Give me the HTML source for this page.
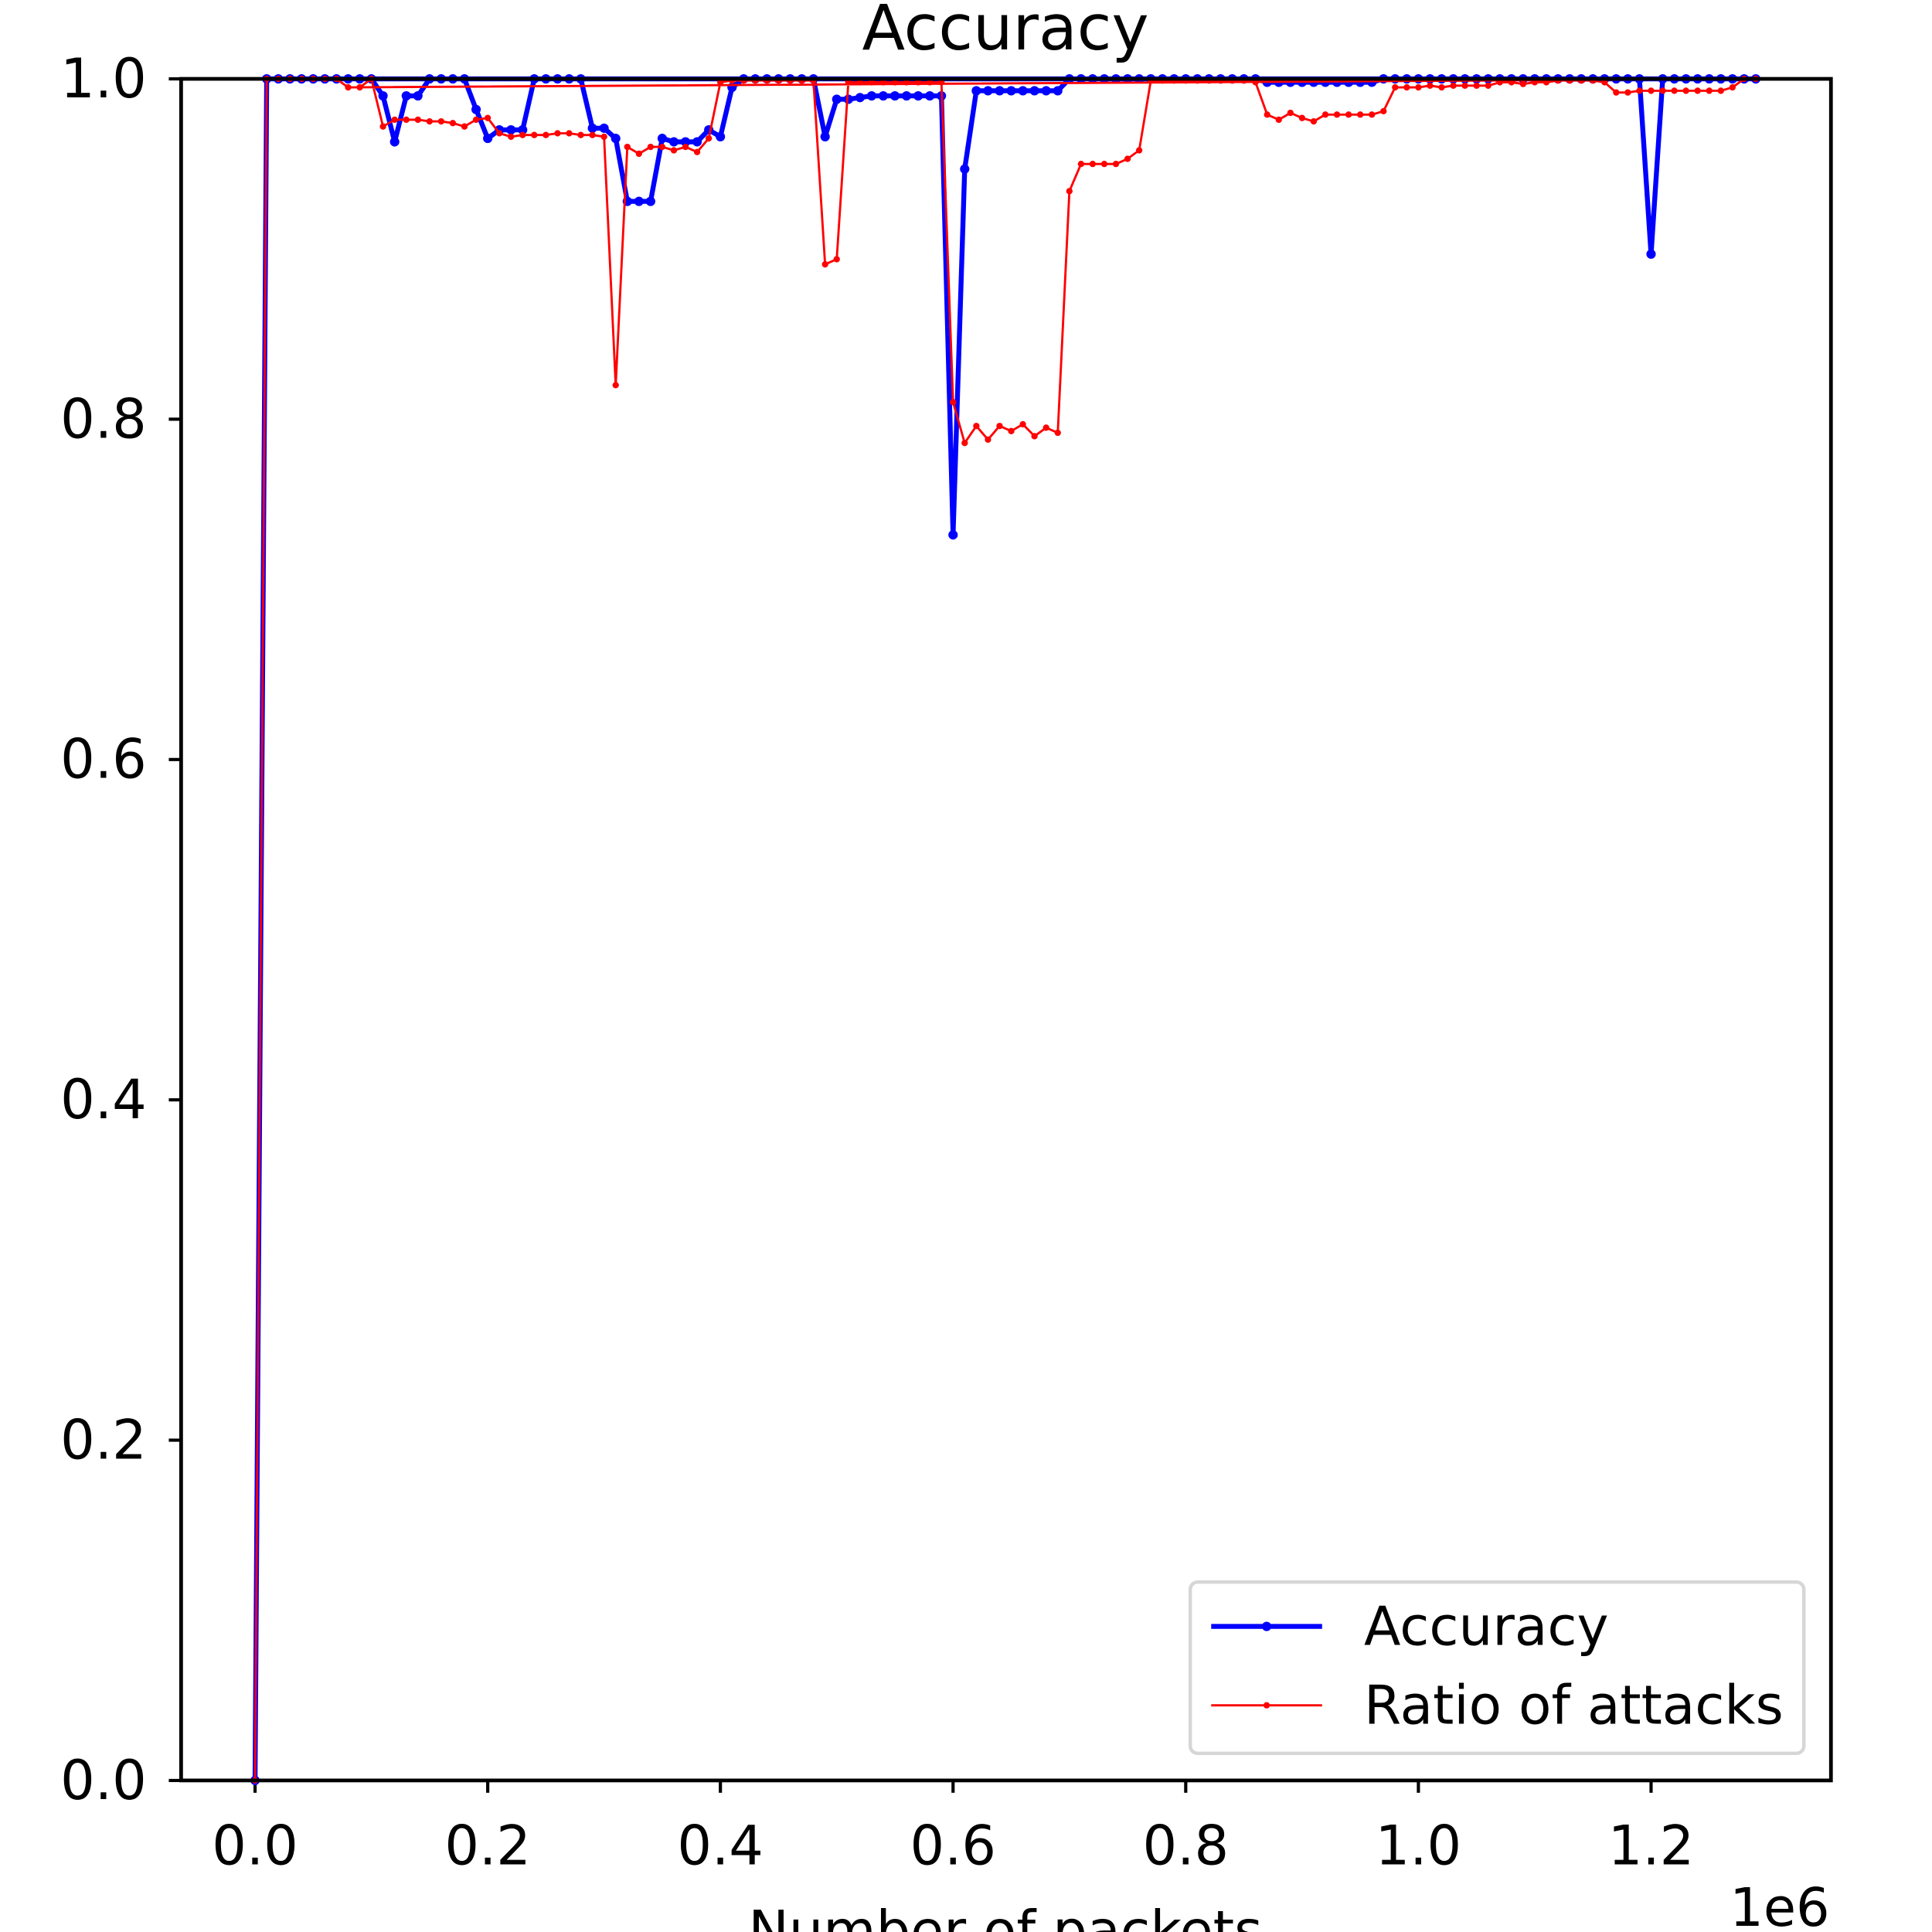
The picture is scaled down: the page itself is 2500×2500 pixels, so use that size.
<!DOCTYPE html>
<html><head><meta charset="utf-8"><style>
html,body{margin:0;padding:0;background:#fff;width:2500px;height:2500px;overflow:hidden}
svg{display:block}
text{font-family:"DejaVu Sans","Liberation Sans",sans-serif;fill:#000}
</style></head><body>
<svg id="chart" width="2500" height="2500" viewBox="0 0 1568 1568" xmlns="http://www.w3.org/2000/svg">
<rect x="0" y="0" width="1568" height="1568" fill="#fff"/>
<text x="816" y="40" font-size="51" text-anchor="middle">Accuracy</text>
<g id="ticks"></g>
<g id="series"></g>
<rect x="147" y="64" width="1339" height="1381" fill="none" stroke="#000" stroke-width="3"/>
<text x="816" y="1582" font-size="44" text-anchor="middle">Number of packets</text>
<text x="1485" y="1563" font-size="43" text-anchor="end">1e6</text>
<g>
<rect x="966" y="1284" width="498" height="139" rx="6" fill="#fff" fill-opacity="0.8" stroke="#d6d6d6" stroke-width="2.8"/>
<line x1="983" y1="1320" x2="1073" y2="1320" stroke="#0000ff" stroke-width="4"/>
<circle cx="1028" cy="1320" r="3.8" fill="#0000ff"/>
<text x="1107" y="1335" font-size="43.5">Accuracy</text>
<line x1="983" y1="1384" x2="1073" y2="1384" stroke="#ff0000" stroke-width="1.8"/>
<circle cx="1028" cy="1384" r="2.6" fill="#ff0000"/>
<text x="1107" y="1399" font-size="43.5">Ratio of attacks</text>
</g>
</svg>
<script>
const xIdx = Array.from({length:130},(_,i)=>i*10000);
const accuracy = [0,1,1,1,1,1,1,1,1,1,
1,0.99,0.963,0.99,0.99,1,1,1,1,0.982,
0.965,0.97,0.97,0.97,1,1,1,1,1,0.971,
0.971,0.965,0.928,0.928,0.928,0.965,0.963,0.963,0.963,0.97,
0.966,0.995,1,1,1,1,1,1,1,0.966,
0.988,0.988,0.989,0.99,0.99,0.99,0.99,0.99,0.99,0.99,
0.732,0.947,0.993,0.993,0.993,0.993,0.993,0.993,0.993,0.993,
1,1,1,1,1,1,1,1,1,1,
1,1,1,1,1,1,1,0.998,0.998,0.998,
0.998,0.998,0.998,0.998,0.998,0.998,0.998,1,1,1,
1,1,1,1,1,1,1,1,1,1,
1,1,1,1,1,1,1,1,1,1,
0.897,1,1,1,1,1,1,1,1,1];
const ratio = [0,1,1,1,1,1,1,1,0.995,0.995,
1,0.972,0.976,0.976,0.976,0.975,0.975,0.974,0.972,0.976,
0.977,0.968,0.966,0.967,0.967,0.967,0.968,0.968,0.967,0.967,
0.966,0.82,0.96,0.956,0.96,0.96,0.958,0.96,0.957,0.965,
0.998,0.999,0.999,0.999,0.999,0.999,0.999,0.999,0.999,0.891,
0.894,0.998,0.998,0.998,0.998,0.998,0.998,0.998,0.998,0.998,
0.81,0.786,0.796,0.788,0.796,0.793,0.797,0.79,0.795,0.792,
0.934,0.95,0.95,0.95,0.95,0.953,0.958,0.999,0.999,0.999,
0.999,0.999,0.999,0.999,0.999,0.999,0.998,0.979,0.976,0.98,
0.977,0.975,0.979,0.979,0.979,0.979,0.979,0.981,0.995,0.995,
0.995,0.996,0.995,0.996,0.996,0.996,0.996,0.998,0.998,0.997,
0.998,0.998,0.999,0.999,0.999,0.999,0.998,0.992,0.992,0.993,
0.993,0.993,0.993,0.993,0.993,0.993,0.993,0.995,1,1];
const returnX = [1290000, 80000];
const returnAcc = [1, 1];
const returnRatio = [1, 0.995];
const xTicks = [0,0.2,0.4,0.6,0.8,1.0,1.2];
const xTickLabels = ["0.0","0.2","0.4","0.6","0.8","1.0","1.2"];
const yTicks = [0,0.2,0.4,0.6,0.8,1.0];
const yTickLabels = ["0.0","0.2","0.4","0.6","0.8","1.0"];

const NS="http://www.w3.org/2000/svg";
const sx = v => 207 + v/1e6*(1133/1.2);
const sy = v => 1445 - v*1381;
function mk(tag, attrs, parent){const e=document.createElementNS(NS,tag);for(const k in attrs)e.setAttribute(k,attrs[k]);parent.appendChild(e);return e;}
const tk=document.getElementById('ticks');
xTicks.forEach((t,i)=>{
  const l=mk('line',{x1:sx(t*1e6),x2:sx(t*1e6),y1:1445,y2:1455,stroke:'#000','stroke-width':2.6},tk);
  
  
  const tx=mk('text',{x:sx(t*1e6),y:1513,'font-size':44,'text-anchor':'middle'},tk);
  tx.textContent=xTickLabels[i];
  
  
});
yTicks.forEach((t,i)=>{
  const l=mk('line',{x1:137,x2:147,y1:sy(t),y2:sy(t),stroke:'#000','stroke-width':2.6},tk);
  
  
  const tx=mk('text',{x:119,y:sy(t)+15,'font-size':44,'text-anchor':'end'},tk);
  tx.textContent=yTickLabels[i];
  
  
});
const sg=document.getElementById('series');
function draw(vals, rx, rv, color, w, r, name){
  const pts=xIdx.map((x,i)=>sx(x)+','+sy(vals[i]));
  rx.forEach((x,i)=>pts.push(sx(x)+','+sy(rv[i])));
  const pl=mk('polyline',{points:pts.join(' '),fill:'none',stroke:color,'stroke-width':w,'stroke-linejoin':'round'},sg);
  
  
  xIdx.forEach((x,i)=>{
    const c=mk('circle',{cx:sx(x),cy:sy(vals[i]),r:r,fill:color},sg);
    
    
  });
}
draw(accuracy, returnX, returnAcc, '#0000ff', 4, 3.8, 'accuracy');
draw(ratio, returnX, returnRatio, '#ff0000', 1.8, 2.6, 'ratio');
</script>
</body></html>
